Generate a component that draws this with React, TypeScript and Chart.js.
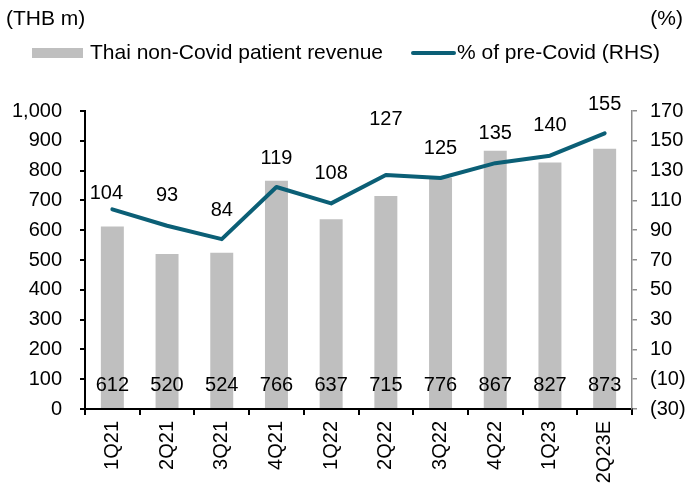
import React, { useEffect, useRef } from "react";
import { Chart, registerables } from "chart.js";

Chart.register(...registerables);

const categories = ["1Q21", "2Q21", "3Q21", "4Q21", "1Q22", "2Q22", "3Q22", "4Q22", "1Q23", "2Q23E"];
const revenue = [612, 520, 524, 766, 637, 715, 776, 867, 827, 873];
const preCovidPct = [104, 93, 84, 119, 108, 127, 125, 135, 140, 155];

const leftTitle = "(THB m)";
const rightTitle = "(%)";
const barLabel = "Thai non-Covid patient revenue";
const lineLabel = "% of pre-Covid (RHS)";

const FONT = "'Liberation Sans', Arial, sans-serif";
const BAR_COLOR = "#BFBFBF";
const LINE_COLOR = "#0B5F76";

// label offsets (px above each line point)
const lineLabelOffsets = [16, 30, 29, 29, 30, 56, 30, 30, 30, 29];
const lineLabelDx = [-6, 0, 0, 0, 0, 0, 0, 0, 0, 0];

const labelsPlugin = {
  id: "customLabels",
  afterDatasetsDraw(chart: any) {
    const ctx = chart.ctx;
    ctx.save();
    ctx.font = `20px ${FONT}`;
    ctx.fillStyle = "#000";
    ctx.textAlign = "center";
    ctx.textBaseline = "middle";
    const barMeta = chart.getDatasetMeta(0);
    const yL = chart.scales.y;
    barMeta.data.forEach((el: any, i: number) => {
      ctx.fillText(String(revenue[i]), el.x, yL.getPixelForValue(80));
    });
    const lineMeta = chart.getDatasetMeta(1);
    lineMeta.data.forEach((el: any, i: number) => {
      ctx.fillText(String(preCovidPct[i]), el.x + lineLabelDx[i], el.y - lineLabelOffsets[i]);
    });
    ctx.restore();
  },
  afterDraw(chart: any) {
    const ctx = chart.ctx;
    ctx.save();
    ctx.font = `21px ${FONT}`;
    ctx.fillStyle = "#000";
    ctx.textBaseline = "middle";
    ctx.textAlign = "left";
    ctx.fillText(leftTitle, 6, 19);
    ctx.textAlign = "right";
    ctx.fillText(rightTitle, 683, 19);
    // legend
    ctx.fillStyle = BAR_COLOR;
    ctx.fillRect(32, 48, 51, 10);
    ctx.fillStyle = "#000";
    ctx.textAlign = "left";
    ctx.fillText(barLabel, 90, 53);
    ctx.strokeStyle = LINE_COLOR;
    ctx.lineWidth = 4;
    ctx.lineCap = "round";
    ctx.beginPath();
    ctx.moveTo(413, 53);
    ctx.lineTo(454, 53);
    ctx.stroke();
    ctx.fillText(lineLabel, 457, 53);
    ctx.restore();
  },
};

export default function App() {
  const ref = useRef<HTMLCanvasElement | null>(null);
  useEffect(() => {
    if (!ref.current) return;
    const chart = new Chart(ref.current, {
      type: "bar",
      data: {
        labels: categories,
        datasets: [
          {
            type: "bar",
            label: barLabel,
            data: revenue,
            backgroundColor: BAR_COLOR,
            yAxisID: "y",
            barPercentage: 0.42,
            categoryPercentage: 1,
            order: 2,
          },
          {
            type: "line",
            label: lineLabel,
            data: preCovidPct,
            borderColor: LINE_COLOR,
            backgroundColor: LINE_COLOR,
            borderWidth: 4,
            pointRadius: 0,
            tension: 0,
            borderCapStyle: "round",
            borderJoinStyle: "round",
            yAxisID: "y1",
            order: 1,
          } as any,
        ],
      },
      options: {
        animation: false,
        responsive: true,
        maintainAspectRatio: false,
        layout: { padding: { top: 111, left: 0, right: 0, bottom: 0 } },
        plugins: { legend: { display: false }, tooltip: { enabled: false } },
        scales: {
          x: {
            offset: true,
            grid: { offset: true, drawOnChartArea: false, drawTicks: true, tickLength: 6, color: "#000", lineWidth: 2 },
            border: { display: true, color: "#000", width: 2 },
            ticks: {
              color: "#000",
              font: { size: 20, family: FONT },
              maxRotation: 90,
              minRotation: 90,
              padding: 6,
              autoSkip: false,
            },
            afterFit(scale: any) {
              scale.height = 79;
            },
          },
          y: {
            position: "left",
            min: 0,
            max: 1000,
            grid: { drawOnChartArea: false, drawTicks: true, tickLength: 5, color: "#000", lineWidth: 2 },
            border: { display: true, color: "#000", width: 2 },
            ticks: {
              stepSize: 100,
              color: "#000",
              font: { size: 20, family: FONT },
              padding: 18,
              callback: (v: any) => Number(v).toLocaleString("en-US"),
            },
            afterFit(scale: any) {
              scale.width = 85;
            },
          },
          y1: {
            position: "right",
            min: -30,
            max: 170,
            grid: { drawOnChartArea: false, drawTicks: true, tickLength: 5, color: "#8C8C8C", lineWidth: 1.5 },
            border: { display: true, color: "#8C8C8C", width: 1.5 },
            ticks: {
              stepSize: 20,
              color: "#000",
              font: { size: 20, family: FONT },
              padding: 13,
              callback: (v: any) => (Number(v) < 0 ? `(${-Number(v)})` : String(v)),
            },
            afterFit(scale: any) {
              scale.width = 56;
            },
          },
        },
      },
      plugins: [labelsPlugin],
    });
    return () => chart.destroy();
  }, []);
  return (
    <div style={{ position: "absolute", left: 0, top: 0, width: 688, height: 488 }}>
      <canvas ref={ref} />
    </div>
  );
}
